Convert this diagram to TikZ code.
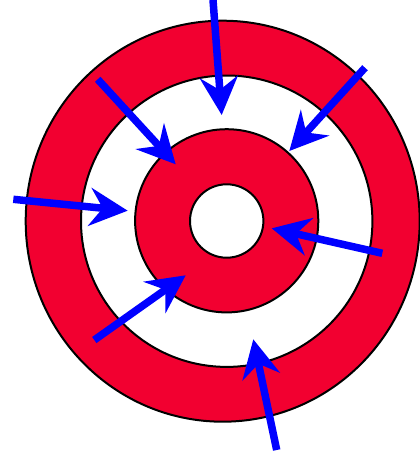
\documentclass[tikz,border=0pt]{standalone}
\usetikzlibrary{arrows.meta}
\definecolor{targetred}{RGB}{242,0,48}
\definecolor{dartblue}{RGB}{0,0,255}
\tikzset{
	ring/.style={draw=black, line width=2pt, fill=#1}
}
\tikzset{
	dart/.style={draw=dartblue, line width=7.5pt,
		-{Stealth[length=38pt, width=38pt, inset=13pt]}}
}
\begin{document}
\begin{tikzpicture}[x=1pt, y=-1pt]
      \useasboundingbox (0,0) rectangle (420,455);
      % four rings of the target
      \draw[ring=targetred] (222.7,221.2) ellipse [x radius=197, y radius=200.5];
      \draw[ring=white] (226.7,221.2) circle [radius=145.7];
      \draw[ring=targetred] (226.7,220.8) circle [radius=91.6];
      \draw[ring=white] (226.7,221) circle [radius=36.7];
      % seven darts, tail and tip of each
      \foreach \name/\tail/\tip in {top/{213,0}/{221.7,115}, ul/{97.7,79.3}/{175.7,164.3},
        ur/{365,67.7}/{289.3,151}, left/{13.3,199.3}/{127.7,210.7},
        right/{382.3,253.3}/{271.7,228.3}, ll/{94.3,340}/{185.7,275.3},
        bottom/{276.7,450}/{253.3,339.3}} {
        \coordinate (\name-tail) at (\tail);
        \coordinate (\name-tip) at (\tip);
        \draw[dart] (\name-tail) -- (\name-tip);
      }
    \end{tikzpicture}
\end{document}
